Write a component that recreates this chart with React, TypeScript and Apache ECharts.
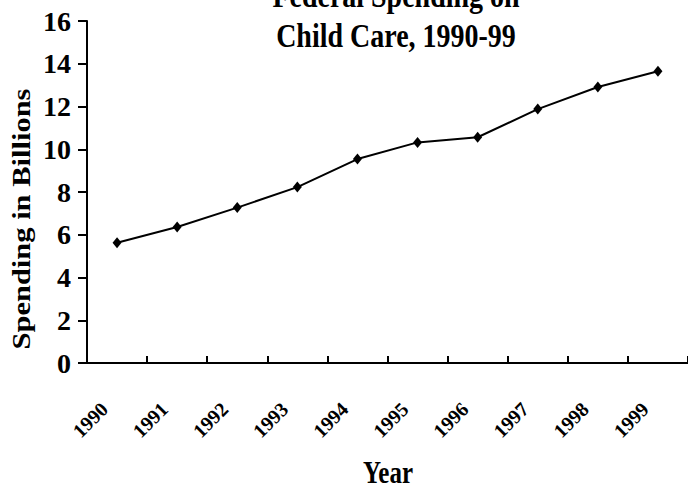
import React, { useEffect, useRef } from "react";
import * as echarts from "echarts";

// Federal child-care spending, billions of dollars
const years = ["1990", "1991", "1992", "1993", "1994", "1995", "1996", "1997", "1998", "1999"];
const spending = [5.63, 6.36, 7.27, 8.23, 9.54, 10.32, 10.56, 11.88, 12.91, 13.65];
const yTicks = { min: 0, max: 16, interval: 2 };

const SERIF = "Liberation Serif";

export default function App() {
  const ref = useRef<HTMLDivElement>(null);

  useEffect(() => {
    if (!ref.current) return;
    const chart = echarts.init(ref.current, undefined, { renderer: "svg" });
    chart.setOption({
      animation: false,
      backgroundColor: "#ffffff",
      grid: { left: 87, right: 0, top: 21, bottom: 124, containLabel: false, outerBoundsMode: "none" },
      xAxis: {
        type: "category",
        data: years,
        boundaryGap: true,
        axisLine: { show: true, lineStyle: { color: "#000", width: 2 } },
        axisTick: { show: true, inside: true, length: 7, interval: 0, lineStyle: { color: "#000", width: 2 } },
        axisLabel: {
          interval: 0,
          rotate: 45,
          margin: 30,
          padding: [0, 18, 0, 0],
          color: "#000",
          fontFamily: SERIF,
          fontWeight: "bold",
          fontSize: 20,
        },
        splitLine: { show: false },
      },
      yAxis: {
        type: "value",
        min: yTicks.min,
        max: yTicks.max,
        interval: yTicks.interval,
        axisLine: { show: true, lineStyle: { color: "#000", width: 2 } },
        axisTick: { show: true, inside: false, length: 9, lineStyle: { color: "#000", width: 2 } },
        axisLabel: {
          margin: 16,
          color: "#000",
          fontFamily: SERIF,
          fontWeight: "bold",
          fontSize: 28,
        },
        splitLine: { show: false },
      },
      series: [
        {
          type: "line",
          data: spending,
          symbol: "diamond",
          symbolSize: [9, 11],
          lineStyle: { color: "#000", width: 2 },
          itemStyle: { color: "#000" },
        },
      ],
      graphic: [
        {
          type: "text",
          x: 396,
          y: -4,
          scaleY: 1.2,
          style: {
            text: "Federal Spending on",
            font: `bold 28px ${SERIF}`,
            fill: "#000",
            textAlign: "center",
            textVerticalAlign: "middle",
          },
        },
        {
          type: "text",
          x: 396,
          y: 36,
          scaleY: 1.2,
          style: {
            text: "Child Care, 1990-99",
            font: `bold 28px ${SERIF}`,
            fill: "#000",
            textAlign: "center",
            textVerticalAlign: "middle",
          },
        },
        {
          type: "text",
          x: 21,
          y: 219,
          rotation: Math.PI / 2,
          scaleX: 1.22,
          style: {
            text: "Spending in Billions",
            font: `bold 25px ${SERIF}`,
            fill: "#000",
            textAlign: "center",
            textVerticalAlign: "middle",
          },
        },
        {
          type: "text",
          x: 388,
          y: 473,
          scaleY: 1.25,
          style: {
            text: "Year",
            font: `bold 25px ${SERIF}`,
            fill: "#000",
            textAlign: "center",
            textVerticalAlign: "middle",
          },
        },
      ],
    });
    return () => chart.dispose();
  }, []);

  return (
    <div
      ref={ref}
      style={{ position: "fixed", left: 0, top: 0, width: 688, height: 487 }}
    />
  );
}
